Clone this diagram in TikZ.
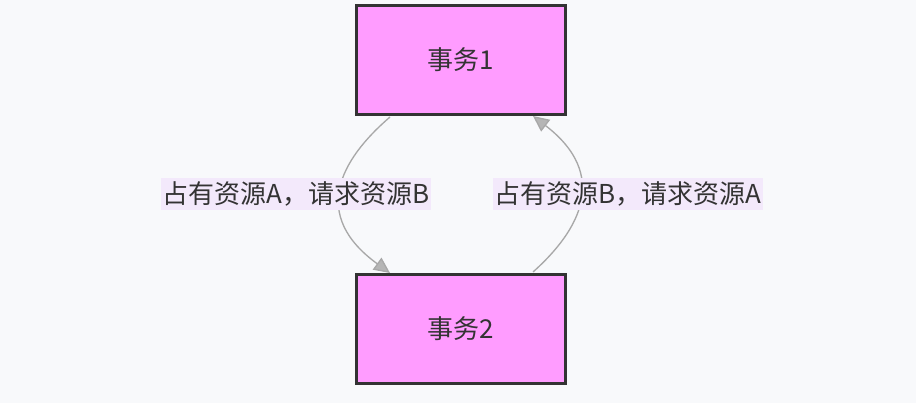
\documentclass[tikz,border=0pt]{standalone}
\usepackage{fontspec}
\setmainfont{Noto Sans CJK SC}
\usetikzlibrary{arrows.meta}
\definecolor{bg}{HTML}{F8F9FB}
\definecolor{boxfill}{HTML}{FF9CFF}
\definecolor{boxline}{HTML}{333333}
\definecolor{lblbg}{HTML}{F3E9FB}
\definecolor{edge}{HTML}{A8A8A8}
\tikzset{
 box/.style={draw=boxline,line width=2.6pt,fill=boxfill,minimum width=157pt,minimum height=82pt,inner sep=0pt,font=\fontsize{19.5}{22}\selectfont,text=boxline},
 lbl/.style={fill=lblbg,inner xsep=1pt,inner ysep=3pt,font=\fontsize{19.5}{22}\selectfont,text=boxline},
 conn/.style={draw=edge,line width=1pt,-{Triangle[length=12pt,width=11pt,fill=edge!85]}}
}
\begin{document}
\begin{tikzpicture}[x=0.75pt,y=-0.75pt]
\useasboundingbox[fill=bg] (0,0) rectangle (916,403);
\node[box] (t1) at (461,60) {事务1};
\node[box] (t2) at (461,329) {事务2};
\coordinate (a1) at (390,117);
\coordinate (a2) at (390,273);
\coordinate (b1) at (533,272);
\coordinate (b2) at (533,116);
\draw[conn] (a1) .. controls (340,160) and (310,215) .. (a2);
\draw[conn] (b1) .. controls (580,230) and (610,175) .. (b2);
\node[lbl] (l1) at (296,194) {占有资源A，请求资源B};
\node[lbl] (l2) at (628,194) {占有资源B，请求资源A};
\end{tikzpicture}
\end{document}
